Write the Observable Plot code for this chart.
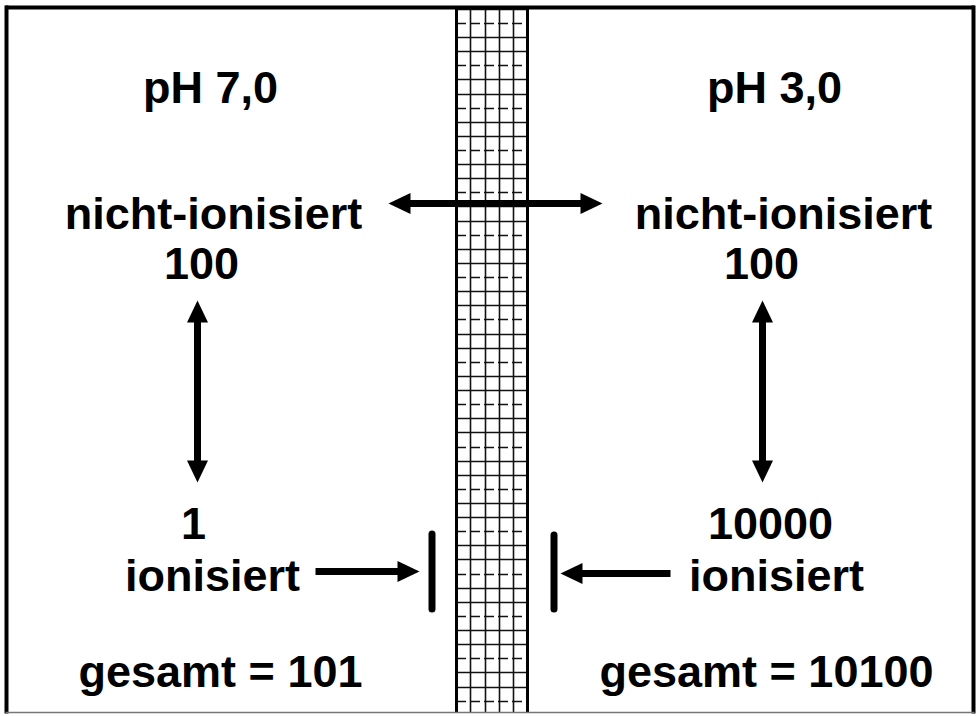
<!DOCTYPE html>
<html>
<head>
<meta charset="utf-8">
<script src="https://cdn.jsdelivr.net/npm/d3@7"></script>
<script src="https://cdn.jsdelivr.net/npm/@observablehq/plot@0.6"></script>
<style>
  html, body { margin: 0; padding: 0; background: #fff; }
  #chart svg { display: block; }
</style>
</head>
<body>
<div id="chart"></div>
<script>
// ---- data ----
const phLabels = ["pH 7,0", "pH 3,0"];
const nonIonizedLabel = "nicht-ionisiert";
const ionizedLabel = "ionisiert";
const totalLabel = "gesamt";
const nonIonized = [100, 100];
const ionized = [1, 10000];
const totals = [101, 10100];

// ---- layout (pixel space of the 977 x 716 picture) ----
const W = 977, H = 716;
const layout = {
  ph:      {x: [210, 774], y: 102},
  nonName: {x: [213, 783], y: 228},
  nonVal:  {x: [201, 761], y: 278},
  ionVal:  {x: [193, 770], y: 538},
  ionName: {x: [212, 776], y: 590},
  total:   {x: [220, 766], y: 686}
};

const texts = [];
for (let i = 0; i < 2; i++) {
  texts.push({t: phLabels[i], x: layout.ph.x[i], y: layout.ph.y});
  texts.push({t: nonIonizedLabel, x: layout.nonName.x[i], y: layout.nonName.y});
  texts.push({t: String(nonIonized[i]), x: layout.nonVal.x[i], y: layout.nonVal.y});
  texts.push({t: String(ionized[i]), x: layout.ionVal.x[i], y: layout.ionVal.y});
  texts.push({t: ionizedLabel, x: layout.ionName.x[i], y: layout.ionName.y});
  texts.push({t: `${totalLabel} = ${totals[i]}`, x: layout.total.x[i], y: layout.total.y});
}

// arrows: tip positions and direction (deg, 0 = up, 90 = right)
const HEAD_L = 22, HEAD_W = 21;
const heads = [
  {x: 388, y: 203, r: -90}, {x: 602, y: 203, r: 90},      // horizontal double arrow
  {x: 197, y: 300, r: 0},   {x: 197, y: 482, r: 180},     // left vertical
  {x: 762, y: 300, r: 0},   {x: 762, y: 482, r: 180},     // right vertical
  {x: 419, y: 571, r: 90},                                 // left single arrow
  {x: 560, y: 573, r: -90}                                 // right single arrow
];
const shafts = [
  {x1: 388 + HEAD_L - 2, y1: 203, x2: 602 - HEAD_L + 2, y2: 203},
  {x1: 197, y1: 300 + HEAD_L - 2, x2: 197, y2: 482 - HEAD_L + 2},
  {x1: 762, y1: 300 + HEAD_L - 2, x2: 762, y2: 482 - HEAD_L + 2},
  {x1: 315, y1: 571, x2: 419 - HEAD_L + 2, y2: 571},
  {x1: 670, y1: 573, x2: 560 + HEAD_L - 2, y2: 573}
];
const bars = [
  {x: 431.5, y1: 534, y2: 609},
  {x: 553.5, y1: 535, y2: 609}
];

// membrane grid
const memL = 456, memR = 527;
const memOuter = [memL, memR];
const memInner = [
  {x: 470, dash: "14,3"}, {x: 485, dash: null}, {x: 499, dash: "9,4"}, {x: 513, dash: null}
];
const memRows = d3.range(0, 51).map(k => ({y: Math.round(8.8 + 14.12 * k), k})).filter(d => d.y <= 712);

// custom arrowhead: tip at origin, pointing up
const headSymbol = {
  draw(ctx) {
    ctx.moveTo(0, 0);
    ctx.lineTo(HEAD_W / 2, HEAD_L);
    ctx.lineTo(-HEAD_W / 2, HEAD_L);
    ctx.closePath();
  }
};

const frame = [
  {x1: 5, y1: 7, x2: 974, y2: 7, w: 4, c: "#000"},
  {x1: 6, y1: 5, x2: 6, y2: 713, w: 4, c: "#000"},
  {x1: 973, y1: 5, x2: 973, y2: 713, w: 4, c: "#000"},
  {x1: 5, y1: 712, x2: 974, y2: 712, w: 1.5, c: "#777"}
];

const font = {fontFamily: "'Liberation Sans', Arial, Helvetica, sans-serif", fontWeight: "bold", fontSize: 45};

const chart = Plot.plot({
  width: W,
  height: H,
  margin: 0,
  x: {domain: [0, W], range: [0, W], axis: null},
  y: {domain: [0, H], range: [0, H], axis: null},
  style: {background: "#fff"},
  marks: [
    // membrane
    Plot.ruleY(memRows.filter(d => d.k % 3 !== 1), {y: "y", x1: memL, x2: memR, stroke: "#111", strokeWidth: 1.6}),
    Plot.ruleY(memRows.filter(d => d.k % 3 === 1), {y: "y", x1: memL, x2: memR, stroke: "#111", strokeWidth: 1.6, strokeDasharray: "10,4"}),
    Plot.ruleX(memInner.filter(d => !d.dash), {x: "x", y1: 7, y2: 712, stroke: "#111", strokeWidth: 1.6}),
    Plot.ruleX(memInner.filter(d => d.dash), {x: "x", y1: 7, y2: 712, stroke: "#111", strokeWidth: 1.6, strokeDasharray: d => d.dash}),
    Plot.ruleX(memOuter, {x: d => d, y1: 7, y2: 712, stroke: "#000", strokeWidth: 3}),
    // frame
    Plot.link(frame, {x1: "x1", y1: "y1", x2: "x2", y2: "y2", stroke: "c", strokeWidth: "w"}),
    // arrows
    Plot.link(shafts, {x1: "x1", y1: "y1", x2: "x2", y2: "y2", stroke: "#000", strokeWidth: 7}),
    Plot.dot(heads, {x: "x", y: "y", rotate: "r", symbol: headSymbol, fill: "#000", stroke: "none", r: 10}),
    Plot.ruleX(bars, {x: "x", y1: "y1", y2: "y2", stroke: "#000", strokeWidth: 7, strokeLinecap: "round"}),
    // texts
    Plot.text(texts, {x: "x", y: "y", text: "t", textAnchor: "middle", lineAnchor: "bottom", fill: "#000", ...font})
  ]
});
document.getElementById("chart").appendChild(chart);
</script>
</body>
</html>
